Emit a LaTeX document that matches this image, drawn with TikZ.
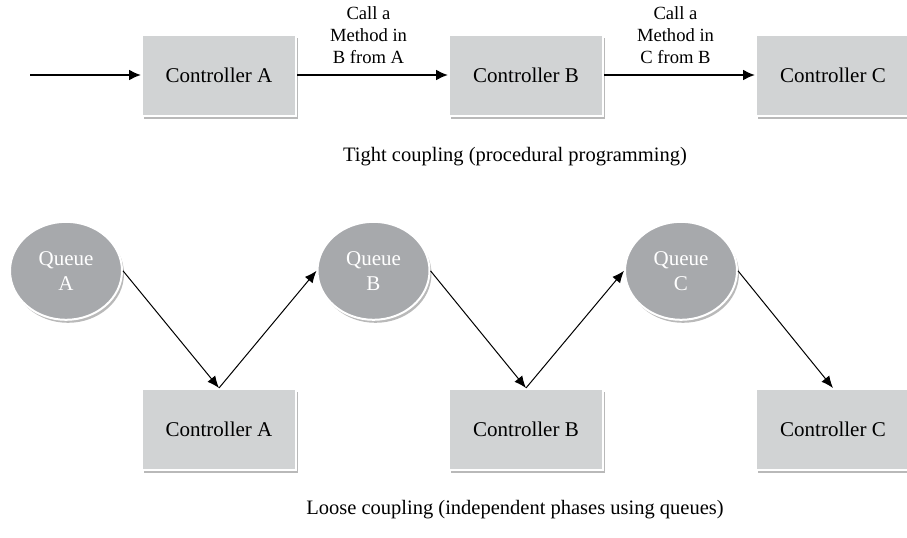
\documentclass[tikz,border=0pt]{standalone}
\usepackage{fontspec}
\setmainfont{Liberation Serif}
\usetikzlibrary{positioning,arrows.meta,shapes.geometric,shadows}
\definecolor{boxgray}{HTML}{D1D3D4}
\definecolor{qgray}{HTML}{A7A9AC}
\tikzset{ctrl/.style={draw=white,line width=1pt,fill=boxgray,minimum width=77pt,minimum height=40.5pt,font=\fontsize{10.5}{12.5}\selectfont,drop shadow={shadow xshift=1pt,shadow yshift=-1.5pt,fill=black!50,opacity=.55}},queue/.style={draw=white,line width=1pt,ellipse,fill=qgray,minimum width=56pt,minimum height=49pt,inner sep=1pt,align=center,text=white,font=\fontsize{10.5}{12.5}\selectfont,drop shadow={shadow xshift=1pt,shadow yshift=-1.5pt,fill=black!50,opacity=.55}},call/.style={draw=black,-{Latex[length=6pt,width=5.5pt]},line width=1pt},feed/.style={draw=black,-{Latex[length=6pt,width=5pt]},line width=.5pt},note/.style={align=center,font=\fontsize{9.3}{10.8}\selectfont,xshift=-2pt},caption/.style={font=\fontsize{10.25}{12}\selectfont}}

\begin{document}
\begin{tikzpicture}[node distance=75.5pt]
\useasboundingbox (0,0) rectangle (453.5pt,-268.5pt);
\node[ctrl] (ta) at (109.5pt,-37.5pt) {Controller A};
\node[ctrl,right=of ta] (tb) {Controller B};
\node[ctrl,right=of tb] (tc) {Controller C};
\coordinate (in) at (15pt,-37.5pt);
\draw[call] (in)--(ta);
\draw[call] (ta)-- node[note,above=2pt] {Call a\\Method in\\B from A} (tb);
\draw[call] (tb)-- node[note,above=2pt] {Call a\\Method in\\C from B} (tc);
\node[caption] (tight) at (257.5pt,-78.5pt) {Tight coupling (procedural programming)};
\node[queue] (qa) at (33pt,-135.4pt) {Queue\\A};
\node[queue,right=96.75pt of qa] (qb) {Queue\\B};
\node[queue,right=96.75pt of qb] (qc) {Queue\\C};
\node[ctrl] (la) at (109.5pt,-214.75pt) {Controller A};
\node[ctrl,right=of la] (lb) {Controller B};
\node[ctrl,right=of lb] (lc) {Controller C};
\foreach \q/\c in {qa/la,qb/lb,qc/lc}\draw[feed] (\q.east)--(\c.north);
\foreach \c/\q in {la/qb,lb/qc}\draw[feed] (\c.north)--(\q.west);
\node[caption] (loose) at (257.5pt,-255pt) {Loose coupling (independent phases using queues)};
\end{tikzpicture}
\end{document}
